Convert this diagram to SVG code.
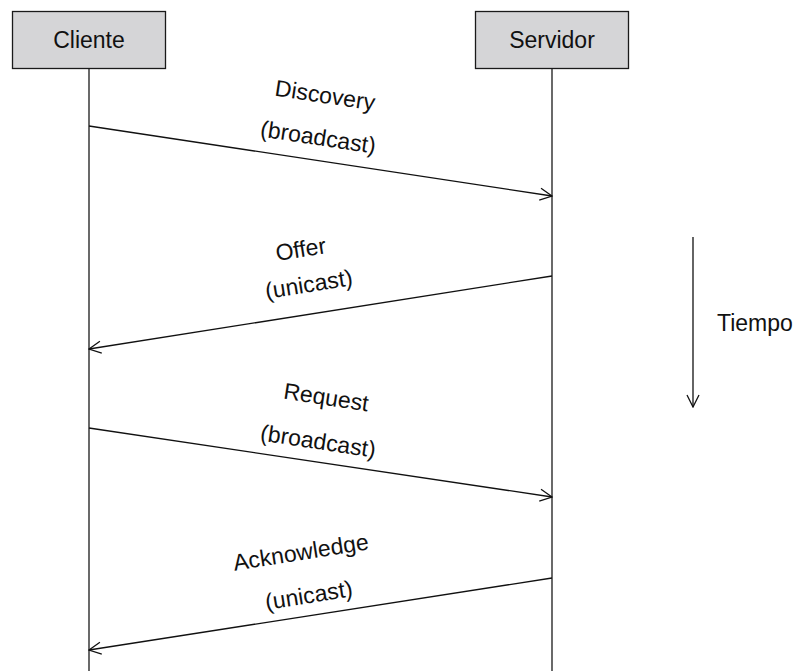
<svg xmlns="http://www.w3.org/2000/svg" width="795" height="671" viewBox="0 0 795 671">
  <defs>
    <style>
      .box { fill: #d5d5d7; stroke: #1a1a1a; stroke-width: 1.3; }
      .life { stroke: #1a1a1a; stroke-width: 1.3; fill: none; }
      .msg { stroke: #111; stroke-width: 1.3; fill: none; marker-end: url(#open); }
      text { font-family: "Liberation Sans", Arial, sans-serif; font-size: 23px; fill: #111; }
      .c { text-anchor: middle; }
    </style>
    <marker id="open" viewBox="0 0 14 14" refX="13" refY="7" markerWidth="14" markerHeight="14" markerUnits="userSpaceOnUse" orient="auto">
      <path d="M1,1 L13,7 L1,13" fill="none" stroke="#111" stroke-width="1.3"/>
    </marker>
  </defs>

  <rect width="795" height="671" fill="#ffffff"/>

  <!-- participants -->
  <g id="cliente">
    <rect class="box" x="12.5" y="11.5" width="153" height="57"/>
    <text class="c" x="89" y="48">Cliente</text>
    <line class="life" x1="89" y1="68.5" x2="89" y2="671"/>
  </g>
  <g id="servidor">
    <rect class="box" x="475.5" y="11.5" width="153" height="57"/>
    <text class="c" x="552" y="48">Servidor</text>
    <line class="life" x1="552" y1="68.5" x2="552" y2="671"/>
  </g>

  <!-- messages -->
  <g id="connectors">
    <line class="msg" x1="89" y1="126" x2="552" y2="196"/>
    <line class="msg" x1="552" y1="276" x2="89" y2="349"/>
    <line class="msg" x1="89" y1="428" x2="552" y2="497"/>
    <line class="msg" x1="552" y1="578" x2="89" y2="650"/>
  </g>

  <!-- message labels -->
  <g id="discovery-label">
    <text class="c" transform="translate(324,103) rotate(8.6)">Discovery</text>
    <text class="c" transform="translate(317,145) rotate(8.6)">(broadcast)</text>
  </g>
  <g id="offer-label">
    <text class="c" transform="translate(302,257) rotate(-9)">Offer</text>
    <text class="c" transform="translate(310,292) rotate(-9)">(unicast)</text>
  </g>
  <g id="request-label">
    <text class="c" transform="translate(325,405) rotate(8.6)">Request</text>
    <text class="c" transform="translate(317,449) rotate(8.6)">(broadcast)</text>
  </g>
  <g id="acknowledge-label">
    <text class="c" transform="translate(302,560) rotate(-9)">Acknowledge</text>
    <text class="c" transform="translate(310,603) rotate(-9)">(unicast)</text>
  </g>

  <!-- time axis -->
  <g id="tiempo">
    <line class="msg" x1="693" y1="237" x2="693" y2="407"/>
    <text x="717" y="331">Tiempo</text>
  </g>
</svg>
